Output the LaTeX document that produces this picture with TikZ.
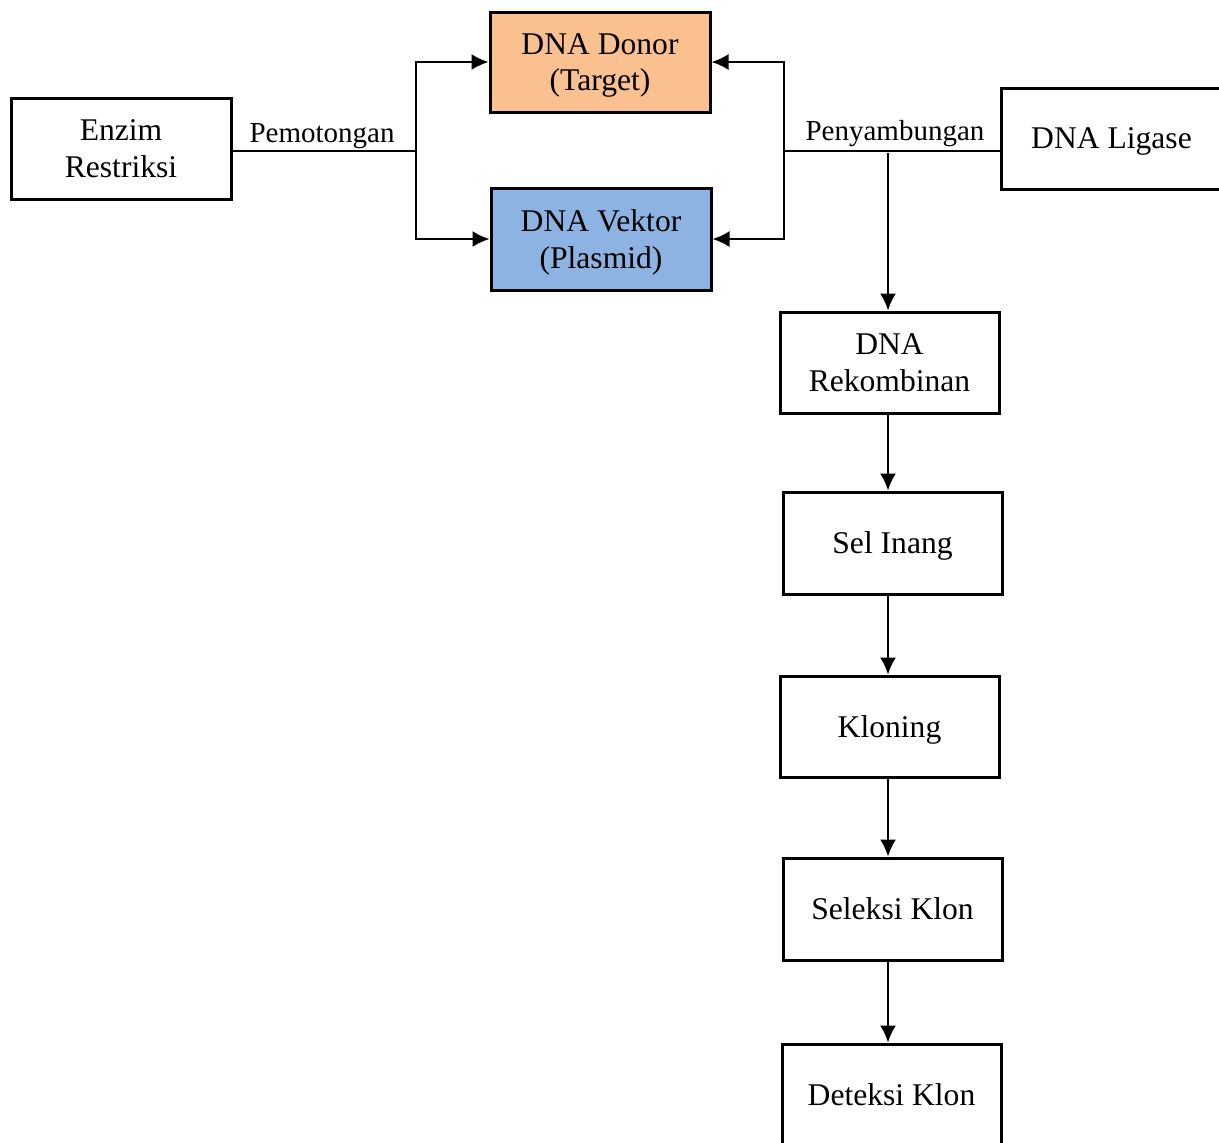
\documentclass[tikz,border=0pt]{standalone}
\usepackage{fontspec}
\setmainfont{Liberation Serif}
\usetikzlibrary{arrows.meta}
\definecolor{donorfill}{HTML}{FAC08F}
\definecolor{vektorfill}{HTML}{8DB3E2}
\tikzset{
  box/.style={draw=black, line width=1.5pt, rectangle, align=center, inner sep=0pt,
    text depth=0pt, font=\fontsize{15.8pt}{18.2pt}\selectfont},
  conn/.style={line width=1pt},
  arr/.style={conn, -{Latex[length=8.5pt,width=8pt]}},
  lbl/.style={font=\fontsize{14.5pt}{17pt}\selectfont, inner sep=0pt, anchor=base}
}
\begin{document}
\begin{tikzpicture}[x=0.5pt, y=-0.5pt]
\useasboundingbox (0,0) rectangle (1219,1142);
\begin{scope}
\clip (0,0) rectangle (1219,1142);
\node[box, minimum width=110pt, minimum height=50.5pt] (enzim) at (121,148.5) {Enzim\\Restriksi};
\node[box, fill=donorfill, minimum width=110pt, minimum height=50pt] (donor) at (600,62) {DNA Donor\\(Target)};
\node[box, fill=vektorfill, minimum width=110pt, minimum height=51pt] (vektor) at (601,239) {DNA Vektor\\(Plasmid)};
\node[box, minimum width=110.5pt, minimum height=50.5pt] (ligase) at (1111.5,138.5) {DNA Ligase};
\node[box, minimum width=109.5pt, minimum height=50.5pt] (rekomb) at (889.5,362.5) {DNA\\Rekombinan};
\node[box, minimum width=109.5pt, minimum height=51pt] (inang) at (892.5,543) {Sel Inang};
\node[box, minimum width=109.5pt, minimum height=50.5pt] (kloning) at (889.5,726.5) {Kloning};
\node[box, minimum width=109.5pt, minimum height=51pt] (seleksi) at (892.5,909) {Seleksi Klon};
\node[box, minimum width=109.5pt, minimum height=51pt] (deteksi) at (891.5,1095) {Deteksi Klon};

\coordinate (jl) at (416,151);
\coordinate (jr) at (784,151);
\coordinate (jd) at (888,151);
\coordinate (jd2) at (888,153);

\draw[conn] (enzim.east |- jl) -- (jl);
\draw[arr] (jl) |- (donor.west);
\draw[arr] (jl) |- (vektor.west);
\draw[conn] (ligase.west |- jr) -- (jr);
\draw[arr] (jr) |- (donor.east);
\draw[arr] (jr) |- (vektor.east);
\draw[arr] (jd2) -- (jd |- rekomb.north);
\draw[arr] (rekomb.south -| jd) -- (inang.north -| jd);
\draw[arr] (inang.south -| jd) -- (kloning.north -| jd);
\draw[arr] (kloning.south -| jd) -- (seleksi.north -| jd);
\draw[arr] (seleksi.south -| jd) -- (deteksi.north -| jd);

\node[lbl] (lpem) at (322,142) {Pemotongan};
\node[lbl] (lpen) at (895,140) {Penyambungan};
\end{scope}
\end{tikzpicture}
\end{document}
